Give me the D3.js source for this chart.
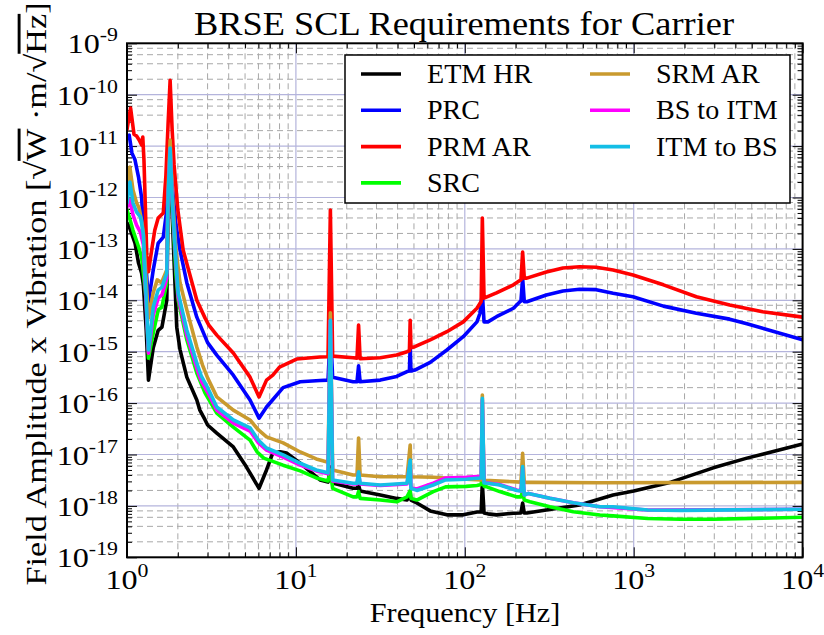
<!DOCTYPE html>
<html>
<head>
<meta charset="utf-8">
<script src="https://d3js.org/d3.v7.min.js"></script>
<style>
body { margin: 0; background: #fff; }
text { font-family: "Liberation Serif", "Times New Roman", serif; fill: #000; }
</style>
</head>
<body>
<div id="my_dataviz"></div>
<script>
// [frequency Hz, amplitude]
const etmHR = [[1.0,3.2e-13],[1.03,2.7e-13],[1.065,2.0e-13],[1.115,1.3e-13],[1.17,5.3e-14],[1.22,3.4e-14],[1.25,2.0e-14],[1.3,2.6e-15],[1.34,2.8e-16],[1.43,1.2e-15],[1.53,2.6e-15],[1.61,3.0e-15],[1.72,1.0e-14],[1.75,5.0e-13],[1.8,4.0e-12],[1.85,5.0e-13],[1.97,3.0e-15],[2.06,1.1e-15],[2.26,3.2e-16],[2.59,1.15e-16],[2.7,7.3e-17],[2.9,4.7e-17],[3.0,3.75e-17],[3.4,2.6e-17],[4.26,1.4e-17],[5.1,5.7e-18],[6.05,2.2e-18],[6.7,5.0e-18],[7.3,1.07e-17],[8.07,1.13e-17],[8.8,1.07e-17],[10.6,6.8e-18],[13.9,3.2e-18],[15.5,2.9e-18],[16,5.7e-18],[16.5,2.8e-18],[21.8,2.2e-18],[23,2.2e-18],[23.5,2.55e-18],[24,1.95e-18],[31.6,1.63e-18],[39.5,1.4e-18],[45.5,1.3e-18],[47.5,1.86e-18],[48,1.3e-18],[52,1.14e-18],[62.4,8.0e-19],[78.3,6.7e-19],[97.9,6.7e-19],[118,7.6e-19],[125,7.6e-19],[127,2.8e-18],[130,7.3e-19],[137,7.0e-19],[154,6.7e-19],[194,7.2e-19],[215,7.3e-19],[220,1.14e-18],[225,7.3e-19],[233,7.3e-19],[304,8.3e-19],[478,1.04e-18],[755,1.63e-18],[1000,1.95e-18],[1660,2.9e-18],[2960,5.5e-18],[4680,8.5e-18],[10000,1.6e-17]];

const prc = [[1.0,1.5e-11],[1.03,1.64e-11],[1.07,7.3e-12],[1.115,5.4e-12],[1.17,2.5e-12],[1.22,1.0e-12],[1.25,2.7e-13],[1.3,3.9e-14],[1.34,9.3e-15],[1.43,3.9e-14],[1.53,1.3e-13],[1.64,1.7e-13],[1.72,5.7e-13],[1.75,2.7e-12],[1.8,8.4e-12],[1.85,1.75e-12],[1.95,2.9e-13],[2.06,9.5e-14],[2.26,2.2e-14],[2.59,4.7e-15],[3.0,1.5e-15],[3.4,8.6e-16],[4.26,3.5e-16],[5.35,1.15e-16],[6.05,5.1e-17],[6.7,8.4e-17],[8.4,2.0e-16],[10.6,2.6e-16],[13.9,2.75e-16],[15.5,2.8e-16],[16,2.6e-15],[16.5,3.2e-16],[21.8,2.6e-16],[23,2.6e-16],[23.5,5.3e-16],[24,2.6e-16],[31.6,2.8e-16],[39.5,3.3e-16],[45.5,4.1e-16],[47,4.2e-16],[47.5,1.3e-15],[48,4.2e-16],[50.6,4.4e-16],[62.4,6.2e-16],[78.3,1.08e-15],[97.9,1.96e-15],[118,3.8e-15],[123,5.6e-15],[127,1.37e-14],[130,3.8e-15],[137,3.8e-15],[154,4.8e-15],[194,7.0e-15],[212,9.4e-15],[215,9.6e-15],[220,2.7e-14],[225,9.4e-15],[233,9.4e-15],[304,1.27e-14],[381,1.52e-14],[478,1.64e-14],[600,1.61e-14],[755,1.37e-14],[990,1.17e-14],[1500,7.7e-15],[2350,5.6e-15],[3700,4.3e-15],[4680,3.5e-15],[10000,1.7e-15]];

const prmAR = [[1.0,2.1e-11],[1.05,5.5e-11],[1.1,1.7e-11],[1.14,1.57e-11],[1.18,1.31e-11],[1.22,1.05e-11],[1.24,1.5e-11],[1.26,5.4e-12],[1.31,7.3e-14],[1.34,3.6e-14],[1.4,9.5e-14],[1.46,2.3e-13],[1.53,4.0e-13],[1.64,5.0e-13],[1.7,2.7e-12],[1.75,2.6e-11],[1.8,1.9e-10],[1.85,2.1e-11],[1.9,4.3e-12],[2.0,5.7e-13],[2.15,9.5e-14],[2.59,1.0e-14],[2.9,4.5e-15],[3.05,3.3e-15],[3.4,2.1e-15],[4.26,9.4e-16],[5.35,3.2e-16],[6.05,1.32e-16],[6.7,2.8e-16],[7.3,3.5e-16],[8.0,5.0e-16],[10.1,7.2e-16],[13.9,7.9e-16],[15.5,8.0e-16],[16,5.7e-13],[16.5,8.2e-16],[21.8,7.6e-16],[23,7.5e-16],[23.5,3.3e-15],[24,7.3e-16],[31.6,7.6e-16],[39.5,8.6e-16],[45.5,1.0e-15],[47,1.05e-15],[47.5,4.1e-15],[48,1.2e-15],[50.6,1.25e-15],[62.4,1.7e-15],[78.3,2.45e-15],[97.9,3.8e-15],[118,7.0e-15],[125,9.5e-15],[127,4.0e-13],[130,1.1e-14],[154,1.39e-14],[194,2.0e-14],[215,2.5e-14],[220,8.7e-14],[225,2.7e-14],[233,2.7e-14],[304,3.56e-14],[381,4.25e-14],[478,4.5e-14],[600,4.4e-14],[755,3.9e-14],[990,3.1e-14],[1500,2.0e-14],[2350,1.17e-14],[3700,8.1e-15],[5800,6.0e-15],[10000,4.7e-15]];

const src = [[1.0,5.7e-13],[1.03,4.2e-13],[1.085,2.3e-13],[1.17,1.1e-13],[1.22,7.0e-14],[1.3,1.0e-14],[1.34,7.5e-16],[1.43,2.3e-15],[1.53,6.5e-15],[1.61,7.4e-15],[1.72,2.2e-14],[1.75,7.1e-13],[1.8,5.4e-12],[1.85,7.1e-13],[1.95,3.1e-14],[2.01,1.0e-14],[2.26,1.7e-15],[2.59,3.85e-16],[2.9,1.57e-16],[3.4,6.4e-17],[4.26,3.4e-17],[5.35,1.9e-17],[5.9,1.12e-17],[6.45,8.5e-18],[8.4,6.2e-18],[10.6,4.8e-18],[13.2,3.5e-18],[15.5,3.05e-18],[16,5.0e-18],[16.5,2.2e-18],[21.8,1.5e-18],[23,1.5e-18],[23.5,1.9e-18],[24,1.4e-18],[31.6,1.3e-18],[39.5,1.2e-18],[45.5,1.5e-18],[47.5,2.0e-18],[48,1.4e-18],[52,1.3e-18],[65,1.9e-18],[77,2.35e-18],[102,2.4e-18],[118,2.5e-18],[125,2.6e-18],[127,4.4e-18],[130,2.4e-18],[135,2.35e-18],[161,1.9e-18],[203,1.5e-18],[215,1.5e-18],[220,1.9e-18],[225,1.3e-18],[243,1.2e-18],[319,9.6e-19],[439,7.7e-19],[631,6.65e-19],[755,6.4e-19],[1210,5.7e-19],[1900,5.5e-19],[2960,5.5e-19],[10000,6.0e-19]];

const srmAR = [[1.0,1.6e-12],[1.04,3.9e-12],[1.085,1.4e-12],[1.14,7.8e-13],[1.18,6.2e-13],[1.22,3.6e-13],[1.25,2.0e-13],[1.34,4.5e-15],[1.43,1.4e-14],[1.51,2.5e-14],[1.6,2.2e-14],[1.72,3.9e-14],[1.75,1.4e-12],[1.8,1.31e-11],[1.85,1.4e-12],[1.95,9.5e-14],[2.06,2.2e-14],[2.26,6.5e-15],[2.59,1.23e-15],[2.8,5.5e-16],[3.0,3.1e-16],[3.4,1.32e-16],[4.26,7.3e-17],[5.35,4.7e-17],[6.0,3.0e-17],[6.7,2.2e-17],[8.4,1.68e-17],[10.6,1.12e-17],[13.2,8.2e-18],[15.5,7.1e-18],[16,5.7e-15],[16.5,5.0e-18],[21.8,4.0e-18],[23,4.0e-18],[23.5,2.1e-17],[24,4.0e-18],[31.6,3.7e-18],[45.5,3.7e-18],[47.5,1.53e-17],[48,3.7e-18],[65,3.6e-18],[102,3.3e-18],[125,3.2e-18],[127,1.44e-16],[130,3.1e-18],[141,3.1e-18],[215,2.9e-18],[220,1.05e-17],[225,2.87e-18],[243,2.87e-18],[631,2.83e-18],[10000,2.87e-18]];

const bsToITM = [[1.0,6.5e-13],[1.04,8.9e-13],[1.085,4.6e-13],[1.14,2.9e-13],[1.2,2.1e-13],[1.25,1.2e-13],[1.34,9.4e-16],[1.43,5.2e-15],[1.53,1.1e-14],[1.61,1.27e-14],[1.72,2.7e-14],[1.75,8.9e-13],[1.8,8.4e-12],[1.85,8.9e-13],[1.95,4.9e-14],[2.01,1.16e-14],[2.26,2.1e-15],[2.59,4.8e-16],[2.75,2.7e-16],[3.0,1.64e-16],[3.4,7.3e-17],[4.26,4.1e-17],[5.35,2.86e-17],[6.0,1.68e-17],[6.7,1.22e-17],[8.4,8.9e-18],[10.6,6.25e-18],[13.2,4.8e-18],[15.5,4.2e-18],[16,4.1e-15],[16.5,3.05e-18],[21.8,2.67e-18],[23,2.67e-18],[23.5,4.4e-18],[24,2.67e-18],[31.6,2.5e-18],[45.5,2.67e-18],[47.5,7.2e-18],[48,2.23e-18],[52,2.13e-18],[65,2.77e-18],[77,3.5e-18],[102,3.6e-18],[118,3.73e-18],[125,3.75e-18],[127,1.15e-16],[130,2.92e-18],[137,2.77e-18],[161,2.6e-18],[203,2.04e-18],[215,1.95e-18],[220,5.46e-18],[225,1.63e-18],[238,1.75e-18],[319,1.41e-18],[439,1.15e-18],[631,9.6e-19],[1210,8.3e-19],[10000,8.6e-19]];

const itmToBS = [[1.0,7.8e-13],[1.04,2.0e-12],[1.085,7.8e-13],[1.14,5.2e-13],[1.2,4.2e-13],[1.22,3.2e-13],[1.25,1.86e-13],[1.34,1.08e-15],[1.43,7.4e-15],[1.53,1.58e-14],[1.61,1.8e-14],[1.72,3.4e-14],[1.75,9.8e-13],[1.8,9.2e-12],[1.85,9.8e-13],[1.95,5.6e-14],[2.01,1.39e-14],[2.26,2.64e-15],[2.59,6.0e-16],[2.75,3.4e-16],[3.0,2.0e-16],[3.4,8.4e-17],[4.26,4.7e-17],[5.35,3.3e-17],[6.0,1.9e-17],[6.7,1.34e-17],[8.4,9.8e-18],[10.6,6.75e-18],[13.2,5.0e-18],[15.5,4.4e-18],[16,4.1e-15],[16.5,3.2e-18],[21.8,2.75e-18],[23,2.75e-18],[23.5,4.6e-18],[24,2.75e-18],[31.6,2.55e-18],[45.5,2.75e-18],[47.5,7.8e-18],[48,2.2e-18],[52,2.0e-18],[65,2.55e-18],[77,3.2e-18],[102,3.3e-18],[118,3.45e-18],[125,3.5e-18],[127,1.24e-16],[130,2.8e-18],[137,2.75e-18],[161,2.55e-18],[203,2.0e-18],[215,1.95e-18],[220,5.8e-18],[225,1.63e-18],[238,1.75e-18],[319,1.41e-18],[439,1.15e-18],[631,9.6e-19],[755,9.6e-19],[1210,8.3e-19],[1900,8.2e-19],[10000,8.6e-19]];

const seriesNames = ["ETM HR", "PRC", "PRM AR", "SRC", "SRM AR", "BS to ITM", "ITM to BS"];
const seriesData = [etmHR, prc, prmAR, src, srmAR, bsToITM, itmToBS];
const seriesColors = ["#000000", "#0000ff", "#ff0000", "#00ff00", "#c99a2e", "#ff00ff", "#14bee6"];

const xMajor = [1, 10, 100, 1000, 10000];
const xLabels = ["0", "1", "2", "3", "4"];
const yMajor = [1e-19, 1e-18, 1e-17, 1e-16, 1e-15, 1e-14, 1e-13, 1e-12, 1e-11, 1e-10, 1e-9];
const yLabels = ["-19", "-18", "-17", "-16", "-15", "-14", "-13", "-12", "-11", "-10", "-9"];

const width = 824, height = 635;
const plot = {left: 127, right: 802.6, top: 43.3, bottom: 557.3};

var svg = d3.select("#my_dataviz")
  .append("svg")
    .attr("width", width)
    .attr("height", height);

var x = d3.scaleLog().domain([1, 1e4]).range([plot.left, plot.right]);
var y = d3.scaleLog().domain([1e-19, 1e-9]).range([plot.bottom, plot.top]);

// minor positions
var xMinor = [];
[1, 10, 100, 1000].forEach(function(d) {
  for (var k = 2; k <= 9; k++) xMinor.push(k * d);
});
var yMinorAll = [], yMinorGrid = [];
for (var e = -19; e < -9; e++) {
  for (var k = 2; k <= 9; k++) {
    yMinorAll.push(k * Math.pow(10, e));
    if (k % 2 == 0) yMinorGrid.push(k * Math.pow(10, e));
  }
}

// grid
var grid = svg.append("g");
grid.selectAll(".vminor").data(xMinor).join("line")
  .attr("x1", d => x(d)).attr("x2", d => x(d))
  .attr("y1", plot.top).attr("y2", plot.bottom)
  .attr("stroke", "#a8a8a8").attr("stroke-width", 1)
  .attr("stroke-dasharray", "6,4");
grid.selectAll(".hminor").data(yMinorGrid).join("line")
  .attr("x1", plot.left).attr("x2", plot.right)
  .attr("y1", d => y(d)).attr("y2", d => y(d))
  .attr("stroke", "#a8a8a8").attr("stroke-width", 1)
  .attr("stroke-dasharray", "6,4");
grid.selectAll(".vmajor").data(xMajor.slice(1, -1)).join("line")
  .attr("x1", d => x(d)).attr("x2", d => x(d))
  .attr("y1", plot.top).attr("y2", plot.bottom)
  .attr("stroke", "#b4b4dc").attr("stroke-width", 1.2);
grid.selectAll(".hmajor").data(yMajor.slice(1, -1)).join("line")
  .attr("x1", plot.left).attr("x2", plot.right)
  .attr("y1", d => y(d)).attr("y2", d => y(d))
  .attr("stroke", "#b4b4dc").attr("stroke-width", 1.2);

// inward ticks on all four sides
function addAxis(axis, tr) {
  svg.append("g").attr("transform", tr).call(axis)
    .call(g => g.select(".domain").remove())
    .call(g => g.selectAll("line").attr("stroke", "#000").attr("stroke-width", 1));
}
addAxis(d3.axisBottom(x).tickValues(xMajor).tickSize(-10).tickFormat(""), `translate(0,${plot.bottom})`);
addAxis(d3.axisBottom(x).tickValues(xMinor).tickSize(-5).tickFormat(""), `translate(0,${plot.bottom})`);
addAxis(d3.axisTop(x).tickValues(xMajor).tickSize(-10).tickFormat(""), `translate(0,${plot.top})`);
addAxis(d3.axisTop(x).tickValues(xMinor).tickSize(-5).tickFormat(""), `translate(0,${plot.top})`);
addAxis(d3.axisLeft(y).tickValues(yMajor).tickSize(-10).tickFormat(""), `translate(${plot.left},0)`);
addAxis(d3.axisLeft(y).tickValues(yMinorAll).tickSize(-5).tickFormat(""), `translate(${plot.left},0)`);
addAxis(d3.axisRight(y).tickValues(yMajor).tickSize(-10).tickFormat(""), `translate(${plot.right},0)`);
addAxis(d3.axisRight(y).tickValues(yMinorAll).tickSize(-5).tickFormat(""), `translate(${plot.right},0)`);

// curves
svg.append("clipPath").attr("id", "clip")
  .append("rect")
    .attr("x", plot.left).attr("y", plot.top)
    .attr("width", plot.right - plot.left).attr("height", plot.bottom - plot.top);

var line = d3.line().x(d => x(d[0])).y(d => y(d[1]));
svg.append("g").attr("clip-path", "url(#clip)")
  .selectAll("path")
  .data(seriesData)
  .join("path")
    .attr("d", line)
    .attr("fill", "none")
    .attr("stroke", (d, i) => seriesColors[i])
    .attr("stroke-width", 3.6)
    .attr("stroke-linejoin", "round")
    .attr("stroke-linecap", "round");

// frame
svg.append("rect")
  .attr("x", plot.left).attr("y", plot.top)
  .attr("width", plot.right - plot.left).attr("height", plot.bottom - plot.top)
  .attr("fill", "none").attr("stroke", "#000").attr("stroke-width", 2);

// tick labels, a bit wider than Times to look like the original
var xl = svg.append("g").selectAll("text").data(xMajor).join("text")
  .attr("transform", d => `translate(${x(d)},589) scale(1.15,1)`)
  .attr("text-anchor", "middle")
  .style("font-size", "28px");
xl.append("tspan").text("10");
xl.append("tspan").attr("dy", -12).style("font-size", "19px").text((d, i) => xLabels[i]);

var yl = svg.append("g").selectAll("text").data(yMajor).join("text")
  .attr("transform", d => `translate(118,${y(d) + 10}) scale(1.15,1)`)
  .attr("text-anchor", "end")
  .style("font-size", "28px");
yl.append("tspan").text("10");
yl.append("tspan").attr("dy", -12).style("font-size", "19px").text((d, i) => yLabels[i]);

// title and axis labels
svg.append("text")
  .attr("transform", "translate(464,35) scale(1.07,1)")
  .attr("text-anchor", "middle")
  .style("font-size", "34px")
  .text("BRSE SCL Requirements for Carrier");

svg.append("text")
  .attr("transform", "translate(465,622) scale(1.08,1)")
  .attr("text-anchor", "middle")
  .style("font-size", "28px")
  .text("Frequency [Hz]");

var ylab = svg.append("text")
  .attr("transform", "translate(46,294) rotate(-90) scale(1.18,1)")
  .attr("text-anchor", "middle")
  .style("font-size", "29px");
ylab.append("tspan").text("Field Amplitude x Vibration [");
ylab.append("tspan").text("\u221A");
ylab.append("tspan").style("text-decoration", "overline").text("W");
ylab.append("tspan").text(" \u00B7m/\u221A");
ylab.append("tspan").style("text-decoration", "overline").text("Hz");
ylab.append("tspan").text("]");

// legend
var legendBox = svg.append("g");
legendBox.append("rect")
  .attr("x", 345).attr("y", 55)
  .attr("width", 445).attr("height", 148)
  .attr("fill", "#fff").attr("stroke", "#000").attr("stroke-width", 1.5);

var legend = legendBox.selectAll(".legend")
  .data(seriesNames)
  .join("g")
    .attr("class", "legend")
    .attr("transform", (d, i) => `translate(${i < 4 ? 361 : 590},${74 + (i % 4) * 36.3})`);

legend.append("line")
  .attr("x1", 0).attr("x2", 40)
  .attr("stroke", (d, i) => seriesColors[i])
  .attr("stroke-width", 3.6);

legend.append("text")
  .attr("transform", "translate(66,9) scale(1.04,1)")
  .style("font-size", "27px")
  .text(d => d);
</script>
</body>
</html>
